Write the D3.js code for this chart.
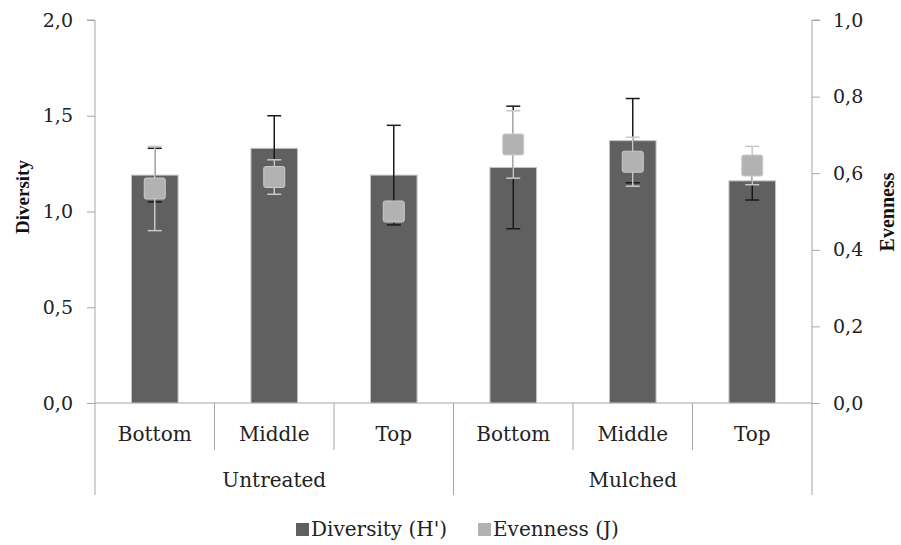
<!DOCTYPE html>
<html>
<head>
<meta charset="utf-8">
<script src="https://cdn.jsdelivr.net/npm/d3@7"></script>
<style>
  body { margin: 0; background: #fff; }
  svg { font-family: "DejaVu Serif", serif; }
</style>
</head>
<body>
<svg id="chart" width="901" height="545"></svg>
<script>
const groups = ["Untreated", "Mulched"];
const positions = ["Bottom", "Middle", "Top"];
const diversity = [1.19, 1.33, 1.19, 1.23, 1.37, 1.16];
const diversityErr = [0.14, 0.17, 0.26, 0.32, 0.22, 0.1];
const evenness = [0.56, 0.59, 0.5, 0.675, 0.63, 0.62];
const evennessErr = [0.11, 0.045, 0.01, 0.088, 0.064, 0.05];
const leftTicks = [0, 0.5, 1, 1.5, 2];
const rightTicks = [0, 0.2, 0.4, 0.6, 0.8, 1];

const svg = d3.select("#chart");
const area = { left: 95, right: 812, top: 20, bottom: 403 };
const axisColor = "#a6a6a6";
const textColor = "#222";
const serif = "DejaVu Serif, serif";

// one entry per bar
const cats = [];
groups.forEach((g, gi) => {
  positions.forEach((p, pi) => {
    const i = gi * positions.length + pi;
    cats.push({
      key: g + "-" + p, group: g, pos: p,
      div: diversity[i], divErr: diversityErr[i],
      even: evenness[i], evenErr: evennessErr[i]
    });
  });
});

const scX = d3.scaleBand()
  .domain(cats.map((d) => d.key))
  .range([area.left, area.right])
  .padding(0);
const scY = d3.scaleLinear().domain([0, 2]).range([area.bottom, area.top]);
const scY2 = d3.scaleLinear().domain([0, 1]).range([area.bottom, area.top]);

const fmt = (v) => d3.format(".1f")(v).replace(".", ",");

// left axis
const axL = svg.append("g")
  .attr("transform", `translate(${area.left},0)`)
  .call(d3.axisLeft(scY).tickValues(leftTicks).tickSize(8).tickPadding(14).tickFormat(fmt))
  .attr("font-family", serif);
axL.select(".domain").attr("stroke", axisColor).attr("d", `M-8,${area.top}H0V${area.bottom}`);
axL.selectAll(".tick line").attr("stroke", axisColor);
axL.selectAll(".tick text").attr("fill", textColor).style("font-size", "19px");

// right axis
const axR = svg.append("g")
  .attr("transform", `translate(${area.right},0)`)
  .call(d3.axisRight(scY2).tickValues(rightTicks).tickSize(8).tickPadding(13).tickFormat(fmt))
  .attr("font-family", serif);
axR.select(".domain").attr("stroke", axisColor).attr("d", `M8,${area.top}H0V${area.bottom}`);
axR.selectAll(".tick line").attr("stroke", axisColor);
axR.selectAll(".tick text").attr("fill", textColor).style("font-size", "19px");

// axis titles
svg.append("text")
  .attr("transform", "translate(29,197) rotate(-90)")
  .attr("text-anchor", "middle")
  .style("font-family", "Liberation Serif, serif")
  .style("font-size", "19px").style("font-weight", "bold")
  .attr("fill", "#111")
  .text("Diversity");
svg.append("text")
  .attr("transform", "translate(894,212) rotate(-90)")
  .attr("text-anchor", "middle")
  .style("font-family", "Liberation Serif, serif")
  .style("font-size", "20px").style("font-weight", "bold")
  .attr("fill", "#111")
  .text("Evenness");

// category axis
const gX = svg.append("g");
gX.append("line")
  .attr("x1", area.left).attr("x2", area.right)
  .attr("y1", area.bottom).attr("y2", area.bottom)
  .attr("stroke", axisColor);
cats.forEach((d, i) => {
  const x = scX(d.key);
  const isGroupEdge = i % positions.length === 0;
  gX.append("line")
    .attr("x1", x).attr("x2", x)
    .attr("y1", area.bottom).attr("y2", isGroupEdge ? 495 : 450)
    .attr("stroke", axisColor);
});
gX.append("line")
  .attr("x1", area.right).attr("x2", area.right)
  .attr("y1", area.bottom).attr("y2", 495)
  .attr("stroke", axisColor);
gX.selectAll(".cat-label")
  .data(cats)
  .enter()
  .append("text")
  .attr("x", (d) => scX(d.key) + scX.bandwidth() / 2)
  .attr("y", 441)
  .attr("text-anchor", "middle")
  .attr("fill", textColor)
  .style("font-size", "20px")
  .text((d) => d.pos);
gX.selectAll(".grp-label")
  .data(groups)
  .enter()
  .append("text")
  .attr("x", (g) => {
    const ks = cats.filter((d) => d.group === g);
    return (scX(ks[0].key) + scX(ks[ks.length - 1].key) + scX.bandwidth()) / 2;
  })
  .attr("y", 487)
  .attr("text-anchor", "middle")
  .attr("fill", textColor)
  .style("font-size", "20px")
  .text((g) => g);

// bars
const barW = scX.bandwidth() * 0.39;
const cx = (d) => scX(d.key) + scX.bandwidth() / 2;
svg.append("g")
  .selectAll("rect")
  .data(cats)
  .enter()
  .append("rect")
  .attr("x", (d) => cx(d) - barW / 2)
  .attr("y", (d) => scY(d.div))
  .attr("width", barW)
  .attr("height", (d) => scY(0) - scY(d.div))
  .attr("fill", "#606060")
  .attr("stroke", "#c4c4c4")
  .attr("stroke-width", 1);

function errorBars(accV, accE, scale, color, width) {
  const g = svg.append("g").attr("stroke", color).attr("stroke-width", width);
  const cap = 7;
  cats.forEach((d) => {
    const x = cx(d);
    const y1 = scale(accV(d) + accE(d));
    const y0 = scale(accV(d) - accE(d));
    g.append("line").attr("x1", x).attr("x2", x).attr("y1", y1).attr("y2", y0);
    g.append("line").attr("x1", x - cap).attr("x2", x + cap).attr("y1", y1).attr("y2", y1);
    g.append("line").attr("x1", x - cap).attr("x2", x + cap).attr("y1", y0).attr("y2", y0);
  });
}
errorBars((d) => d.div, (d) => d.divErr, scY, "#1a1a1a", 1.5);
errorBars((d) => d.even, (d) => d.evenErr, scY2, "#c8c8c8", 1.5);

// evenness markers
const mk = 21;
svg.append("g")
  .selectAll("rect")
  .data(cats)
  .enter()
  .append("rect")
  .attr("x", (d) => cx(d) - mk / 2)
  .attr("y", (d) => scY2(d.even) - mk / 2)
  .attr("width", mk)
  .attr("height", mk)
  .attr("rx", 2)
  .attr("fill", "#b2b2b2")
  .attr("stroke", "#cbcbcb")
  .attr("stroke-width", 1);

// legend
const legend = [
  { label: "Diversity (H')", color: "#606060", x: 296 },
  { label: "Evenness (J)", color: "#b2b2b2", x: 478 }
];
const lg = svg.append("g");
legend.forEach((l) => {
  lg.append("rect")
    .attr("x", l.x).attr("y", 523)
    .attr("width", 13).attr("height", 13)
    .attr("fill", l.color);
  lg.append("text")
    .attr("x", l.x + 15).attr("y", 536)
    .attr("fill", textColor)
    .style("font-size", "20px")
    .text(l.label);
});
</script>
</body>
</html>
